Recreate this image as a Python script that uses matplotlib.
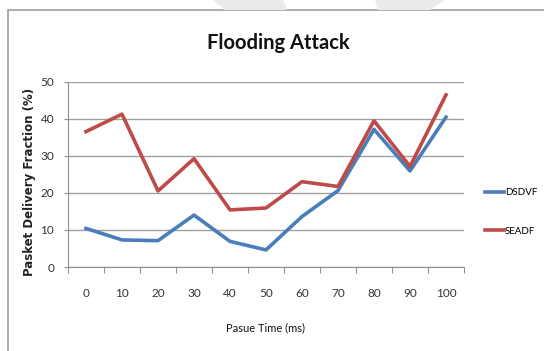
import matplotlib
matplotlib.use("Agg")
import matplotlib.pyplot as plt
from matplotlib.patches import Rectangle, Polygon

categories = ["0", "10", "20", "30", "40", "50", "60", "70", "80", "90", "100"]
dsdvf = [10.4, 7.3, 7.1, 14.0, 6.9, 4.6, 13.6, 20.6, 37.1, 25.9, 40.4]
seadf = [36.5, 41.2, 20.5, 29.2, 15.4, 15.9, 23.0, 21.7, 39.4, 27.1, 46.4]
yticks = [0, 10, 20, 30, 40, 50]

FP = dict(fontfamily="Lato")
W, H = 544, 351
fig = plt.figure(figsize=(W / 100, H / 100), dpi=100)

# decorative outer frame and hatched shapes
fig.patches.append(Rectangle((8 / W, -0.05), 1.1, (H - 10) / H + 0.05, transform=fig.transFigure,
                             fill=False, edgecolor="#a0a0a0", linewidth=1.2))
for pts in ([(213, 0), (283, 0), (287, 10), (225, 10)], [(375, 0), (445, 0), (430, 10), (378, 10)]):
    fig.patches.append(Polygon([(x / W, 1 - y / H) for x, y in pts], closed=True, transform=fig.transFigure,
                               facecolor="#ebebeb", edgecolor="none"))

ax = fig.add_axes([68 / W, 1 - 267 / H, (464 - 68) / W, (267 - 81.5) / H])
x = list(range(len(categories)))
l1, = ax.plot(x, dsdvf, color="#4a7ebb", linewidth=2.6, label="DSDVF", solid_joinstyle="round")
l2, = ax.plot(x, seadf, color="#be4b48", linewidth=2.6, label="SEADF", solid_joinstyle="round")

ax.set_xlim(-0.5, len(categories) - 0.5)
ax.set_ylim(0, 50)
ax.set_yticks(yticks)
ax.set_yticklabels([str(v) for v in yticks], fontsize=8.5, color="#333333", **FP)
ax.set_xticks([i - 0.5 for i in range(len(categories) + 1)], minor=False)
ax.set_xticklabels([])
ax.set_xticks(x, minor=True)
ax.set_xticklabels(categories, minor=True, fontsize=8.5, color="#333333", **FP)
ax.tick_params(axis="x", which="major", length=4, color="#909090", direction="out")
ax.tick_params(axis="x", which="minor", length=0, pad=15)
ax.tick_params(axis="y", length=3, color="#909090", pad=7)
ax.grid(axis="y", color="#a0a0a0", linewidth=1.0)
ax.set_axisbelow(True)
for s in ["top", "right"]:
    ax.spines[s].set_visible(False)
for s in ["left", "bottom"]:
    ax.spines[s].set_color("#909090")

fig.text(278 / W, 1 - 43 / H, "Flooding Attack", ha="center", va="center",
         fontsize=14.5, fontweight="bold", color="#111111", **FP)
fig.text(30 / W, 1 - 182 / H, "Pasket Delivery Fraction (%)", ha="center", va="center", rotation=90,
         fontsize=8.5, fontweight="bold", fontfamily="DejaVu Sans", color="#222222")
fig.text(266 / W, 1 - 328 / H, "Pasue Time (ms)", ha="center", va="center", fontsize=8,
         color="#111111", **FP)

leg = fig.legend(handles=[l1, l2], loc="center left", bbox_to_anchor=(476 / W, 1 - 212 / H),
                 frameon=False, prop={"family": "Lato", "size": 7}, handlelength=2.0,
                 handletextpad=0.1, labelspacing=3.0)

fig.savefig("out.png", dpi=100)
